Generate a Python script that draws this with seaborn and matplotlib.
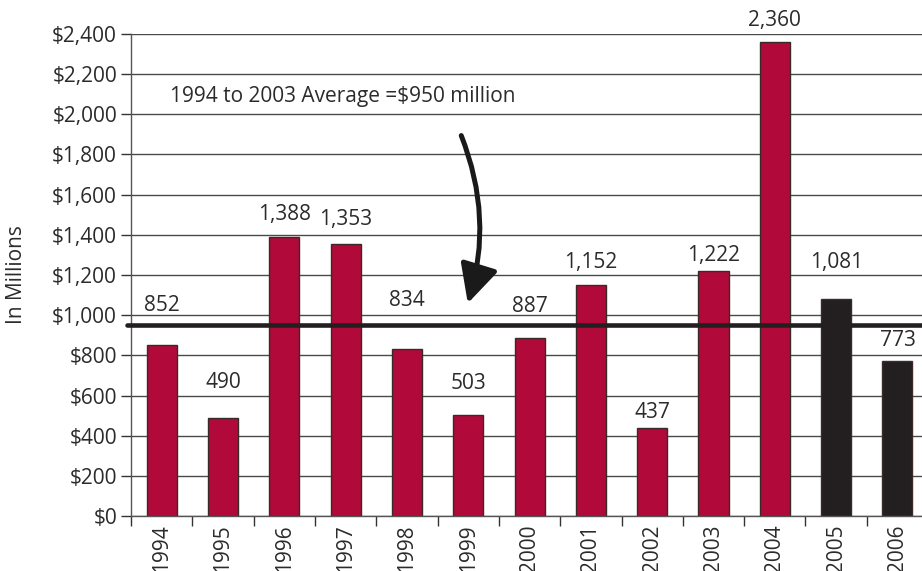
import numpy as np
import pandas as pd
import matplotlib
matplotlib.use("Agg")
import matplotlib.pyplot as plt
import seaborn as sns
from matplotlib.ticker import FixedLocator, FuncFormatter

sns.set_style("white")
plt.rcParams['font.family'] = ['Open Sans', 'DejaVu Sans']

# data
years = ['1994', '1995', '1996', '1997', '1998', '1999', '2000',
         '2001', '2002', '2003', '2004', '2005', '2006']
values = [852, 490, 1388, 1353, 834, 503, 887, 1152, 437, 1222, 2360, 1081, 773]
labels = ['852', '490', '1,388', '1,353', '834', '503', '887',
          '1,152', '437', '1,222', '2,360', '1,081', '773']
average = 950
avg_text = '1994 to 2003 Average =$950 million'

# label gap above each bar (pixels), as placed in the original
label_gap = [39, 35, 23, 25, 48, 31, 31, 22, 16, 15, 22, 36, 20]

RED = '#B0093A'
BLACK = '#231F20'
colors = [RED] * 11 + [BLACK] * 2
FS = 15

df = pd.DataFrame({'Year': years, 'Value': values})

fig = plt.figure(figsize=(9.22, 5.71), dpi=100)
ax = fig.add_axes([0.142, 0.0963, 0.858, 0.8442])

ax.yaxis.grid(True, color='#4a4a4a', linewidth=1.0)
ax.set_axisbelow(True)

sns.barplot(data=df, x='Year', y='Value', hue='Year', palette=colors,
            legend=False, width=0.49, edgecolor='#3a2a2a', linewidth=1.0,
            saturation=1, ax=ax)

ax.axhline(average, color=BLACK, linewidth=3.3, zorder=3, xmin=-0.005, clip_on=False)

ax.set_xlim(-0.5, 12.4)
ax.set_ylim(0, 2400)
ax.yaxis.set_major_locator(FixedLocator(np.arange(0, 2401, 200)))
ax.yaxis.set_major_formatter(FuncFormatter(lambda v, p: f'${v:,.0f}'))

ax.tick_params(axis='y', which='major', direction='out', length=7, width=1,
               color='#333333', labelsize=FS, labelcolor='#2b2b2b', left=True, pad=3)
ax.tick_params(axis='x', which='major', length=0, labelsize=FS,
               labelcolor='#2b2b2b', labelrotation=90, pad=6)
ax.xaxis.set_minor_locator(FixedLocator(np.arange(-0.5, 12.6, 1)))
ax.tick_params(axis='x', which='minor', direction='out', length=7, width=1,
               color='#333333', bottom=True)

ax.set_xlabel('')
ax.set_ylabel('In Millions', fontsize=FS, color='#2b2b2b')
ax.yaxis.set_label_coords(-0.132, 0.5)

for side in ['top', 'right']:
    ax.spines[side].set_visible(False)
for side in ['left', 'bottom']:
    ax.spines[side].set_color('#555555')
    ax.spines[side].set_linewidth(1.0)

for i, (v, lab) in enumerate(zip(values, labels)):
    ax.annotate(lab, xy=(i, v), xytext=(0, label_gap[i] * 0.72),
                textcoords='offset points', ha='center', va='center',
                fontsize=FS, color='#2b2b2b', annotation_clip=False)

ax.text(0.14, 2087, avg_text, ha='left', va='center', fontsize=FS, color='#2b2b2b')

ax.annotate('', xy=(4.98, 1046), xytext=(4.87, 1907),
            arrowprops=dict(arrowstyle='-|>,head_length=0.9,head_width=0.45',
                            connectionstyle='arc3,rad=-0.18',
                            color='#1a1a1a', linewidth=3.6, mutation_scale=26))

fig.savefig('out.png', dpi=100)
